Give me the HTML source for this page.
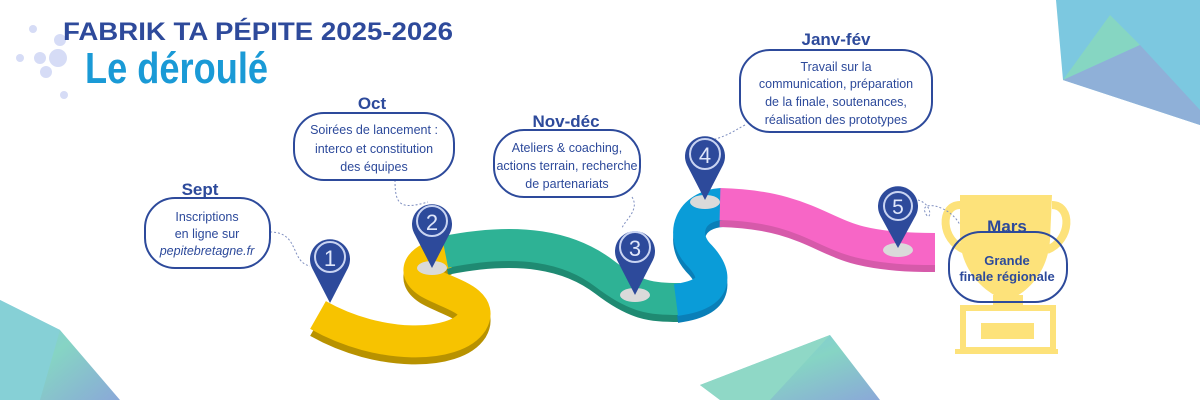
<!DOCTYPE html>
<html><head><meta charset="utf-8"><style>
html,body{margin:0;padding:0;background:#fff;}
svg{display:block;}
text{font-family:"Liberation Sans",sans-serif;}
</style></head><body>
<svg width="1200" height="400" viewBox="0 0 1200 400" xmlns="http://www.w3.org/2000/svg">
<defs>
<linearGradient id="g1" x1="0" y1="0" x2="1" y2="1"><stop offset="0" stop-color="#7fc6e6"/><stop offset="0.5" stop-color="#86d4c4"/><stop offset="1" stop-color="#8aa8d8"/></linearGradient>
</defs>
<polygon points="1056,0 1200,0 1200,125 1063,80" fill="#7cc8e0"/>
<polygon points="1063,80 1110,15 1140,45" fill="#86d6c2"/>
<polygon points="1063,80 1140,45 1200,110 1200,125" fill="#8fb0d8"/>
<polygon points="0,300 0,400 120,400 60,330" fill="url(#g1)"/>
<polygon points="0,300 60,330 40,400 0,400" fill="#86d0d6"/>
<polygon points="700,385 830,335 880,400 720,400" fill="url(#g1)"/>
<polygon points="700,385 830,335 770,400 720,400" fill="#8fd8c6"/>
<g fill="#d6dcf6"><circle cx="33" cy="29" r="4"/><circle cx="60" cy="40" r="6"/><circle cx="40" cy="58" r="6"/><circle cx="58" cy="58" r="9"/><circle cx="46" cy="72" r="6"/><circle cx="20" cy="58" r="4"/><circle cx="64" cy="95" r="4"/></g>
<text x="63" y="40" font-size="25" font-weight="bold" fill="#2e4a9b" textLength="390" lengthAdjust="spacingAndGlyphs">FABRIK TA PÉPITE 2025-2026</text>
<text x="85" y="83" font-size="44" font-weight="bold" fill="#1a9ad6" textLength="183" lengthAdjust="spacingAndGlyphs">Le déroulé</text>
<!-- trophy -->
<g fill="#fde27a">
<path d="M960,195 L1052,195 L1050,240 C1048,270 1030,290 1013,298 L1000,298 C982,290 962,270 960,240 Z"/>
<path d="M960,205 C940,205 940,240 965,250" fill="none" stroke="#fde27a" stroke-width="8"/>
<path d="M1052,205 C1072,205 1072,240 1047,250" fill="none" stroke="#fde27a" stroke-width="8"/>
<rect x="993" y="295" width="30" height="12"/>
<rect x="963" y="308" width="90" height="42" fill="none" stroke="#fde27a" stroke-width="6"/>
<rect x="981" y="323" width="53" height="16"/>
<rect x="955" y="349" width="103" height="5"/>
</g>
<g fill="none" stroke-width="32" stroke-linecap="butt" transform="translate(0,7)">
<path d="M318,315 C380,350 455,348 472,322 C485,300 445,293 428,282 C410,270 422,258 448,252" stroke="#b89200"/>
<path d="M445,252 C520,237 570,247 605,274 C635,297 650,299 680,299" stroke="#1f8a72"/>
<path d="M676,300 C722,294 716,272 698,254 C680,234 690,206 722,204" stroke="#0a7fb8"/>
<path d="M720,204 C800,206 820,232 860,242 C885,248 910,249 935,249" stroke="#d65aaa"/>
</g>
<g fill="none" stroke-width="32" stroke-linecap="butt">
<path d="M318,315 C380,350 455,348 472,322 C485,300 445,293 428,282 C410,270 422,258 448,252" stroke="#f7c300"/>
<path d="M445,252 C520,237 570,247 605,274 C635,297 650,299 680,299" stroke="#2eb295"/>
<path d="M676,300 C722,294 716,272 698,254 C680,234 690,206 722,204" stroke="#0a9cd8"/>
<path d="M720,204 C800,206 820,232 860,242 C885,248 910,249 935,249" stroke="#f766c6"/>
</g>
<g fill="none" stroke="#7f8fc0" stroke-width="1" stroke-dasharray="2,2">
<path d="M270,232 C300,232 290,262 310,266"/>
<path d="M395,180 C395,205 400,210 428,202"/>
<path d="M632,197 C640,210 625,220 622,228"/>
<path d="M745,125 C735,130 730,135 712,140"/>
<path d="M918,200 C935,205 930,225 925,212 C920,200 950,205 960,225"/>
</g>
<g>
<g><path d="M330,303 L312,268 A20,20 0 1,1 348,268 Z" fill="#2d4a9b"/><circle cx="330" cy="257" r="15" fill="none" stroke="#c9d4f2" stroke-width="2"/><text x="330" y="266" font-size="22" fill="#dfe6fa" text-anchor="middle">1</text></g>
<g><ellipse cx="432" cy="268" rx="15" ry="7" fill="#dadada"/><path d="M432,268 L414,233 A20,20 0 1,1 450,233 Z" fill="#2d4a9b"/><circle cx="432" cy="221" r="15" fill="none" stroke="#c9d4f2" stroke-width="2"/><text x="432" y="230" font-size="22" fill="#dfe6fa" text-anchor="middle">2</text></g>
<g><ellipse cx="635" cy="295" rx="15" ry="7" fill="#dadada"/><path d="M635,295 L617,260 A20,20 0 1,1 653,260 Z" fill="#2d4a9b"/><circle cx="635" cy="247" r="15" fill="none" stroke="#c9d4f2" stroke-width="2"/><text x="635" y="256" font-size="22" fill="#dfe6fa" text-anchor="middle">3</text></g>
<g><ellipse cx="705" cy="202" rx="15" ry="7" fill="#dadada"/><path d="M705,200 L687,165 A20,20 0 1,1 723,165 Z" fill="#2d4a9b"/><circle cx="705" cy="154" r="15" fill="none" stroke="#c9d4f2" stroke-width="2"/><text x="705" y="163" font-size="22" fill="#dfe6fa" text-anchor="middle">4</text></g>
<g><ellipse cx="898" cy="250" rx="15" ry="7" fill="#dadada"/><path d="M898,248 L880,215 A20,20 0 1,1 916,215 Z" fill="#2d4a9b"/><circle cx="898" cy="206" r="14" fill="none" stroke="#c9d4f2" stroke-width="2"/><text x="898" y="214" font-size="21" fill="#dfe6fa" text-anchor="middle">5</text></g>
</g>
<g fill="#fff" stroke="#2d4a9b" stroke-width="2">
<rect x="145" y="198" width="125" height="70" rx="30"/>
<rect x="294" y="113" width="160" height="67" rx="30"/>
<rect x="494" y="130" width="146" height="67" rx="30"/>
<rect x="740" y="50" width="192" height="82" rx="30"/>
<rect x="949" y="232" width="118" height="70" rx="32" fill="none"/>
</g>
<g fill="#2d4a9b" text-anchor="middle">
<text x="200" y="195" font-size="17" font-weight="bold">Sept</text>
<text x="372" y="109" font-size="17" font-weight="bold">Oct</text>
<text x="566" y="127" font-size="17" font-weight="bold">Nov-déc</text>
<text x="836" y="45" font-size="17" font-weight="bold">Janv-fév</text>
<text x="1007" y="232" font-size="17" font-weight="bold">Mars</text>
<g font-size="12.5">
<text x="207" y="221">Inscriptions</text>
<text x="207" y="238">en ligne sur</text>
<text x="207" y="255" font-style="italic">pepitebretagne.fr</text>
<text x="374" y="134">Soirées de lancement :</text>
<text x="374" y="153">interco et constitution</text>
<text x="374" y="171">des équipes</text>
<text x="567" y="152">Ateliers &amp; coaching,</text>
<text x="567" y="170">actions terrain, recherche</text>
<text x="567" y="188">de partenariats</text>
<text x="836" y="71">Travail sur la</text>
<text x="836" y="88">communication, préparation</text>
<text x="836" y="106">de la finale, soutenances,</text>
<text x="836" y="124">réalisation des prototypes</text>
</g>
<text x="1007" y="265" font-size="13" font-weight="bold">Grande</text>
<text x="1007" y="281" font-size="13" font-weight="bold">finale régionale</text>
</g>
</svg>
</body></html>
